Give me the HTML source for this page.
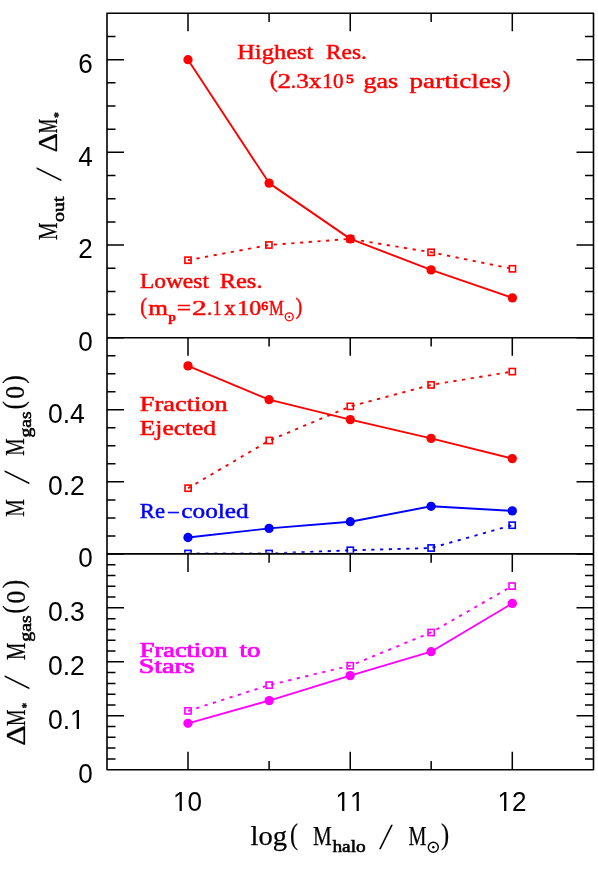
<!DOCTYPE html>
<html lang="en"><head><meta charset="utf-8"><title>Outflow mass vs halo mass</title>
<style>
html,body{margin:0;padding:0;background:#fff;}
body{width:598px;height:870px;overflow:hidden;font-family:"Liberation Sans",sans-serif;}
svg{display:block;will-change:transform;}
.ax{stroke:#000;stroke-width:1.60;fill:none;stroke-linecap:butt;stroke-linejoin:round;}
.tk{stroke:#000;stroke-width:1.5;fill:none;}
.num{font-family:"Liberation Sans",sans-serif;font-size:28px;fill:#000;font-kerning:none;}
.ser{font-family:"Liberation Serif",serif;font-kerning:none;}
.ln{fill:none;stroke-width:1.9;stroke-linejoin:round;stroke-linecap:butt;}
.dt{fill:none;stroke-width:1.9;stroke-dasharray:3.2 5.54;stroke-dashoffset:0.14;}
.sq{fill:none;stroke-width:1.6;}
.r{stroke:#ff0000;}.b{stroke:#0000ff;}.m{stroke:#ff00ff;}
.fr{fill:#ff0000;}.fb{fill:#0000ff;}.fm{fill:#ff00ff;}
</style></head><body>
<svg width="598" height="870" viewBox="0 0 598 870">
<rect x="0" y="0" width="598" height="870" fill="#ffffff"/>
<defs>
<clipPath id="cp1"><rect x="107.0" y="13.3" width="486.5" height="324.5"/></clipPath>
<clipPath id="cp2"><rect x="107.0" y="337.8" width="486.5" height="215.0"/></clipPath>
<clipPath id="cp3"><rect x="107.0" y="553.9" width="486.5" height="215.8"/></clipPath>
</defs>
<!-- data series -->
<g clip-path="url(#cp1)">
<path class="dt r" d="M188.0 260.2 L268.9 245.0 L350.3 238.9 L431.1 252.3 L512.4 268.8"/>
<rect class="sq r" x="184.90" y="257.10" width="6.2" height="6.2"/>
<rect class="sq r" x="265.80" y="241.90" width="6.2" height="6.2"/>
<rect class="sq r" x="347.20" y="235.80" width="6.2" height="6.2"/>
<rect class="sq r" x="428.00" y="249.20" width="6.2" height="6.2"/>
<rect class="sq r" x="509.30" y="265.70" width="6.2" height="6.2"/>
</g>
<g clip-path="url(#cp1)">
<path class="ln r" d="M188.0 59.7 L269.1 183.1 L350.3 238.9 L431.1 269.9 L512.4 297.9"/>
<circle class="fr" cx="188.0" cy="59.7" r="4.65"/>
<circle class="fr" cx="269.1" cy="183.1" r="4.65"/>
<circle class="fr" cx="350.3" cy="238.9" r="4.65"/>
<circle class="fr" cx="431.1" cy="269.9" r="4.65"/>
<circle class="fr" cx="512.4" cy="297.9" r="4.65"/>
</g>
<g clip-path="url(#cp2)">
<path class="dt r" d="M188.1 488.2 L269.3 440.5 L350.3 406.4 L431.1 384.9 L512.3 371.6"/>
<rect class="sq r" x="185.00" y="485.10" width="6.2" height="6.2"/>
<rect class="sq r" x="266.20" y="437.40" width="6.2" height="6.2"/>
<rect class="sq r" x="347.20" y="403.30" width="6.2" height="6.2"/>
<rect class="sq r" x="428.00" y="381.80" width="6.2" height="6.2"/>
<rect class="sq r" x="509.20" y="368.50" width="6.2" height="6.2"/>
</g>
<g clip-path="url(#cp2)">
<path class="ln r" d="M188.0 365.9 L269.1 399.7 L350.3 419.6 L431.1 438.4 L512.3 458.6"/>
<circle class="fr" cx="188.0" cy="365.9" r="4.65"/>
<circle class="fr" cx="269.1" cy="399.7" r="4.65"/>
<circle class="fr" cx="350.3" cy="419.6" r="4.65"/>
<circle class="fr" cx="431.1" cy="438.4" r="4.65"/>
<circle class="fr" cx="512.3" cy="458.6" r="4.65"/>
</g>
<g clip-path="url(#cp2)">
<path class="dt b" d="M188.0 553.5 L269.1 553.5 L350.3 550.3 L431.1 548.0 L512.2 525.2"/>
<rect class="sq b" x="184.90" y="550.40" width="6.2" height="6.2"/>
<rect class="sq b" x="266.00" y="550.40" width="6.2" height="6.2"/>
<rect class="sq b" x="347.20" y="547.20" width="6.2" height="6.2"/>
<rect class="sq b" x="428.00" y="544.90" width="6.2" height="6.2"/>
<rect class="sq b" x="509.10" y="522.10" width="6.2" height="6.2"/>
</g>
<g clip-path="url(#cp2)">
<path class="ln b" d="M188.0 537.5 L269.1 528.4 L350.3 521.7 L431.1 506.3 L512.3 510.9"/>
<circle class="fb" cx="188.0" cy="537.5" r="4.65"/>
<circle class="fb" cx="269.1" cy="528.4" r="4.65"/>
<circle class="fb" cx="350.3" cy="521.7" r="4.65"/>
<circle class="fb" cx="431.1" cy="506.3" r="4.65"/>
<circle class="fb" cx="512.3" cy="510.9" r="4.65"/>
</g>
<g clip-path="url(#cp3)">
<path class="dt m" d="M188.0 710.9 L269.2 685.1 L350.2 665.7 L431.1 632.5 L512.1 586.1"/>
<rect class="sq m" x="184.90" y="707.80" width="6.2" height="6.2"/>
<rect class="sq m" x="266.10" y="682.00" width="6.2" height="6.2"/>
<rect class="sq m" x="347.10" y="662.60" width="6.2" height="6.2"/>
<rect class="sq m" x="428.00" y="629.40" width="6.2" height="6.2"/>
<rect class="sq m" x="509.00" y="583.00" width="6.2" height="6.2"/>
</g>
<g clip-path="url(#cp3)">
<path class="ln m" d="M188.0 723.3 L269.2 700.6 L350.2 675.6 L431.1 651.7 L512.3 603.4"/>
<circle class="fm" cx="188.0" cy="723.3" r="4.65"/>
<circle class="fm" cx="269.2" cy="700.6" r="4.65"/>
<circle class="fm" cx="350.2" cy="675.6" r="4.65"/>
<circle class="fm" cx="431.1" cy="651.7" r="4.65"/>
<circle class="fm" cx="512.3" cy="603.4" r="4.65"/>
</g>
<!-- axes frame -->
<rect class="ax" x="107.0" y="13.3" width="486.5" height="756.4"/>
<path class="ax" d="M107.0 337.8 H593.5 M107.0 553.9 H593.5"/>
<path class="tk" d="M188.00 13.3 v18.0 M188.00 337.8 v18.0 M188.00 553.9 v18.0 M188.00 769.7 v-18.0 M269.10 13.3 v8.8 M269.10 337.8 v8.8 M269.10 553.9 v8.8 M269.10 769.7 v-8.8 M350.25 13.3 v18.0 M350.25 337.8 v18.0 M350.25 553.9 v18.0 M350.25 769.7 v-18.0 M431.15 13.3 v8.8 M431.15 337.8 v8.8 M431.15 553.9 v8.8 M431.15 769.7 v-8.8 M512.30 13.3 v18.0 M512.30 337.8 v18.0 M512.30 553.9 v18.0 M512.30 769.7 v-18.0"/>
<path class="tk" d="M107.0 314.62 h8.5 M593.5 314.62 h-8.5 M107.0 291.44 h8.5 M593.5 291.44 h-8.5 M107.0 268.26 h8.5 M593.5 268.26 h-8.5 M107.0 245.09 h17.0 M593.5 245.09 h-17.0 M107.0 221.91 h8.5 M593.5 221.91 h-8.5 M107.0 198.73 h8.5 M593.5 198.73 h-8.5 M107.0 175.55 h8.5 M593.5 175.55 h-8.5 M107.0 152.37 h17.0 M593.5 152.37 h-17.0 M107.0 129.19 h8.5 M593.5 129.19 h-8.5 M107.0 106.01 h8.5 M593.5 106.01 h-8.5 M107.0 82.84 h8.5 M593.5 82.84 h-8.5 M107.0 59.66 h17.0 M593.5 59.66 h-17.0 M107.0 36.48 h8.5 M593.5 36.48 h-8.5 M107.0 535.89 h8.5 M593.5 535.89 h-8.5 M107.0 517.88 h8.5 M593.5 517.88 h-8.5 M107.0 499.88 h8.5 M593.5 499.88 h-8.5 M107.0 481.87 h17.0 M593.5 481.87 h-17.0 M107.0 463.86 h8.5 M593.5 463.86 h-8.5 M107.0 445.85 h8.5 M593.5 445.85 h-8.5 M107.0 427.84 h8.5 M593.5 427.84 h-8.5 M107.0 409.83 h17.0 M593.5 409.83 h-17.0 M107.0 391.82 h8.5 M593.5 391.82 h-8.5 M107.0 373.82 h8.5 M593.5 373.82 h-8.5 M107.0 355.81 h8.5 M593.5 355.81 h-8.5 M107.0 758.91 h8.5 M593.5 758.91 h-8.5 M107.0 748.12 h8.5 M593.5 748.12 h-8.5 M107.0 737.33 h8.5 M593.5 737.33 h-8.5 M107.0 726.54 h8.5 M593.5 726.54 h-8.5 M107.0 715.75 h17.0 M593.5 715.75 h-17.0 M107.0 704.96 h8.5 M593.5 704.96 h-8.5 M107.0 694.17 h8.5 M593.5 694.17 h-8.5 M107.0 683.38 h8.5 M593.5 683.38 h-8.5 M107.0 672.59 h8.5 M593.5 672.59 h-8.5 M107.0 661.80 h17.0 M593.5 661.80 h-17.0 M107.0 651.01 h8.5 M593.5 651.01 h-8.5 M107.0 640.22 h8.5 M593.5 640.22 h-8.5 M107.0 629.43 h8.5 M593.5 629.43 h-8.5 M107.0 618.64 h8.5 M593.5 618.64 h-8.5 M107.0 607.85 h17.0 M593.5 607.85 h-17.0 M107.0 597.06 h8.5 M593.5 597.06 h-8.5 M107.0 586.27 h8.5 M593.5 586.27 h-8.5 M107.0 575.48 h8.5 M593.5 575.48 h-8.5 M107.0 564.69 h8.5 M593.5 564.69 h-8.5 M107.0 337.80 h17.0 M593.5 337.80 h-17.0 M107.0 553.90 h17.0 M593.5 553.90 h-17.0"/>
<!-- tick labels -->
<text class="num" x="78.3" y="73.0" textLength="14.5" lengthAdjust="spacingAndGlyphs">6</text>
<text class="num" x="78.3" y="165.7" textLength="14.5" lengthAdjust="spacingAndGlyphs">4</text>
<text class="num" x="78.3" y="258.4" textLength="14.5" lengthAdjust="spacingAndGlyphs">2</text>
<text class="num" x="78.3" y="351.1" textLength="14.5" lengthAdjust="spacingAndGlyphs">0</text>
<text class="num" x="47.9" y="423.1" textLength="36.9" lengthAdjust="spacingAndGlyphs">0.4</text>
<text class="num" x="47.9" y="495.2" textLength="36.9" lengthAdjust="spacingAndGlyphs">0.2</text>
<text class="num" x="78.3" y="567.2" textLength="14.5" lengthAdjust="spacingAndGlyphs">0</text>
<text class="num" x="47.9" y="621.1" textLength="36.9" lengthAdjust="spacingAndGlyphs">0.3</text>
<text class="num" x="47.9" y="675.1" textLength="36.9" lengthAdjust="spacingAndGlyphs">0.2</text>
<text class="num" x="47.9" y="729.0" textLength="36.9" lengthAdjust="spacingAndGlyphs">0.1</text>
<text class="num" x="78.3" y="783.0" textLength="14.5" lengthAdjust="spacingAndGlyphs">0</text>
<text class="num" x="173.1" y="811.1" textLength="29.0" lengthAdjust="spacingAndGlyphs">10</text>
<text class="num" x="335.4" y="811.1" textLength="29.0" lengthAdjust="spacingAndGlyphs">11</text>
<text class="num" x="497.4" y="811.1" textLength="29.0" lengthAdjust="spacingAndGlyphs">12</text>
<!-- trim base bar of digit 1 -->
<rect x="173.26" y="808.9" width="6.30" height="2.6" fill="#fff"/><rect x="181.84" y="808.9" width="5.60" height="2.6" fill="#fff"/>
<rect x="335.77" y="808.9" width="6.30" height="2.6" fill="#fff"/><rect x="344.35" y="808.9" width="5.60" height="2.6" fill="#fff"/>
<rect x="350.26" y="808.9" width="6.30" height="2.6" fill="#fff"/><rect x="358.84" y="808.9" width="5.60" height="2.6" fill="#fff"/>
<rect x="497.77" y="808.9" width="6.30" height="2.6" fill="#fff"/><rect x="506.35" y="808.9" width="5.60" height="2.6" fill="#fff"/>
<rect x="70.37" y="726.9" width="6.30" height="2.6" fill="#fff"/><rect x="79.00" y="726.9" width="5.60" height="2.6" fill="#fff"/>
<!-- in-plot annotations -->
<g>
<text class="ser" x="237.19" y="59.3" font-size="20px" fill="#ff0000" stroke="#ff0000" stroke-width="0.45" textLength="76.15" lengthAdjust="spacingAndGlyphs">Highest</text>
<text class="ser" x="326.13" y="59.3" font-size="20px" fill="#ff0000" stroke="#ff0000" stroke-width="0.45" textLength="40.60" lengthAdjust="spacingAndGlyphs">Res.</text>
<text class="ser" x="269.66" y="87.4" font-size="22.5px" fill="#ff0000" stroke="#ff0000" stroke-width="0.45" textLength="7.91" lengthAdjust="spacingAndGlyphs">(</text>
<text class="ser" x="277.41" y="88.2" font-size="20px" fill="#ff0000" stroke="#ff0000" stroke-width="0.45" textLength="13.60" lengthAdjust="spacingAndGlyphs">2</text>
<text class="ser" x="290.71" y="88.2" font-size="20px" fill="#ff0000" stroke="#ff0000" stroke-width="0.45" textLength="5.29" lengthAdjust="spacingAndGlyphs">.</text>
<text class="ser" x="296.19" y="88.2" font-size="20px" fill="#ff0000" stroke="#ff0000" stroke-width="0.45" textLength="25.21" lengthAdjust="spacingAndGlyphs">3x</text>
<text class="ser" x="322.34" y="88.2" font-size="20px" fill="#ff0000" stroke="#ff0000" stroke-width="0.45" textLength="21.17" lengthAdjust="spacingAndGlyphs">10</text>
<text class="ser" x="345.99" y="83.2" font-size="12.5px" fill="#ff0000" stroke="#ff0000" stroke-width="0.80" textLength="7.82" lengthAdjust="spacingAndGlyphs">5</text>
<text class="ser" x="363.58" y="88.2" font-size="20px" fill="#ff0000" stroke="#ff0000" stroke-width="0.45" textLength="34.66" lengthAdjust="spacingAndGlyphs">gas</text>
<text class="ser" x="409.56" y="88.2" font-size="20px" fill="#ff0000" stroke="#ff0000" stroke-width="0.45" textLength="91.82" lengthAdjust="spacingAndGlyphs">particles</text>
<text class="ser" x="503.00" y="87.4" font-size="22.5px" fill="#ff0000" stroke="#ff0000" stroke-width="0.45" textLength="7.26" lengthAdjust="spacingAndGlyphs">)</text>
<text class="ser" x="139.92" y="288.0" font-size="20px" fill="#ff0000" stroke="#ff0000" stroke-width="0.45" textLength="69.01" lengthAdjust="spacingAndGlyphs">Lowest</text>
<text class="ser" x="219.70" y="288.0" font-size="20px" fill="#ff0000" stroke="#ff0000" stroke-width="0.45" textLength="42.82" lengthAdjust="spacingAndGlyphs">Res.</text>
<text class="ser" x="140.21" y="314.4" font-size="22.5px" fill="#ff0000" stroke="#ff0000" stroke-width="0.45" textLength="6.74" lengthAdjust="spacingAndGlyphs">(</text>
<text class="ser" x="148.37" y="315.3" font-size="20px" fill="#ff0000" stroke="#ff0000" stroke-width="0.45" textLength="19.73" lengthAdjust="spacingAndGlyphs">m</text>
<text class="ser" x="168.32" y="321.0" font-size="12.5px" fill="#ff0000" font-weight="bold" stroke="#ff0000" stroke-width="0.30" textLength="7.74" lengthAdjust="spacingAndGlyphs">p</text>
<text class="ser" x="176.74" y="315.3" font-size="20px" fill="#ff0000" stroke="#ff0000" stroke-width="0.45" textLength="14.30" lengthAdjust="spacingAndGlyphs">=</text>
<text class="ser" x="192.11" y="315.3" font-size="20px" fill="#ff0000" stroke="#ff0000" stroke-width="0.45" textLength="14.72" lengthAdjust="spacingAndGlyphs">2</text>
<text class="ser" x="207.01" y="315.3" font-size="20px" fill="#ff0000" stroke="#ff0000" stroke-width="0.45" textLength="5.29" lengthAdjust="spacingAndGlyphs">.</text>
<text class="ser" x="213.05" y="315.3" font-size="20px" fill="#ff0000" stroke="#ff0000" stroke-width="0.45" textLength="8.24" lengthAdjust="spacingAndGlyphs">1</text>
<text class="ser" x="224.30" y="315.3" font-size="20px" fill="#ff0000" stroke="#ff0000" stroke-width="0.45" textLength="11.27" lengthAdjust="spacingAndGlyphs">x</text>
<text class="ser" x="237.20" y="315.3" font-size="20px" fill="#ff0000" stroke="#ff0000" stroke-width="0.45" textLength="23.91" lengthAdjust="spacingAndGlyphs">10</text>
<text class="ser" x="261.32" y="310.2" font-size="12.5px" fill="#ff0000" stroke="#ff0000" stroke-width="0.80" textLength="6.79" lengthAdjust="spacingAndGlyphs">6</text>
<text class="ser" x="269.12" y="315.3" font-size="20px" fill="#ff0000" stroke="#ff0000" stroke-width="0.45" textLength="14.76" lengthAdjust="spacingAndGlyphs">M</text>
<circle cx="289.2" cy="316.8" r="4.0" fill="none" stroke="#ff0000" stroke-width="1.3"/><circle cx="289.2" cy="316.8" r="1.1" fill="#ff0000"/>
<text class="ser" x="295.77" y="314.4" font-size="22.5px" fill="#ff0000" stroke="#ff0000" stroke-width="0.45" textLength="6.48" lengthAdjust="spacingAndGlyphs">)</text>
</g><g>
<text class="ser" x="139.74" y="410.7" font-size="20px" fill="#ff0000" stroke="#ff0000" stroke-width="0.45" textLength="87.96" lengthAdjust="spacingAndGlyphs">Fraction</text>
<text class="ser" x="139.77" y="434.6" font-size="20px" fill="#ff0000" stroke="#ff0000" stroke-width="0.45" textLength="76.34" lengthAdjust="spacingAndGlyphs">Ejected</text>
<text class="ser" x="139.85" y="518.3" font-size="20px" fill="#0000ff" stroke="#0000ff" stroke-width="0.45" textLength="25.14" lengthAdjust="spacingAndGlyphs">Re</text>
<text class="ser" x="168.24" y="518.3" font-size="20px" fill="#0000ff" stroke="#0000ff" stroke-width="0.45" textLength="10.42" lengthAdjust="spacingAndGlyphs">&#8211;</text>
<text class="ser" x="181.34" y="518.3" font-size="20px" fill="#0000ff" stroke="#0000ff" stroke-width="0.45" textLength="67.37" lengthAdjust="spacingAndGlyphs">cooled</text>
</g><g>
<text class="ser" x="139.84" y="656.5" font-size="20px" fill="#ff00ff" stroke="#ff00ff" stroke-width="0.70" textLength="87.66" lengthAdjust="spacingAndGlyphs">Fraction</text>
<text class="ser" x="239.44" y="656.5" font-size="20px" fill="#ff00ff" stroke="#ff00ff" stroke-width="0.70" textLength="20.99" lengthAdjust="spacingAndGlyphs">to</text>
<text class="ser" x="138.73" y="672.5" font-size="20px" fill="#ff00ff" stroke="#ff00ff" stroke-width="0.70" textLength="55.88" lengthAdjust="spacingAndGlyphs">Stars</text>
</g>
<!-- axis titles -->
<g>
<text class="ser" x="250.53" y="844.8" font-size="27px" fill="#000000" stroke="#000000" stroke-width="0.25" textLength="36.52" lengthAdjust="spacingAndGlyphs">log</text>
<text class="ser" x="290.04" y="843.9" font-size="28.5px" fill="#000000" stroke="#000000" stroke-width="0.20" textLength="8.04" lengthAdjust="spacingAndGlyphs">(</text>
<text class="ser" x="312.89" y="844.8" font-size="27px" fill="#000000" stroke="#000000" stroke-width="0.25" textLength="18.72" lengthAdjust="spacingAndGlyphs">M</text>
<text class="ser" x="332.41" y="851.9" font-size="16.5px" fill="#000000" stroke="#000000" stroke-width="0.55" textLength="33.33" lengthAdjust="spacingAndGlyphs">halo</text>
<text class="ser" transform="translate(378.9,848.8) skewX(-8.5)" x="0" y="0" font-size="37px" fill="#000000">/</text>
<text class="ser" x="408.52" y="844.8" font-size="27px" fill="#000000" stroke="#000000" stroke-width="0.25" textLength="17.87" lengthAdjust="spacingAndGlyphs">M</text>
<circle cx="433.3" cy="847.2" r="5.0" fill="none" stroke="#000000" stroke-width="1.4"/><circle cx="433.3" cy="847.2" r="1.2" fill="#000000"/>
<text class="ser" x="440.91" y="843.9" font-size="28.5px" fill="#000000" stroke="#000000" stroke-width="0.20" textLength="8.17" lengthAdjust="spacingAndGlyphs">)</text>
</g>
<g transform="translate(57.0,0) rotate(-90)">
<text class="ser" x="-239.97" y="0.0" font-size="27px" fill="#000000" stroke="#000000" stroke-width="0.25" textLength="17.55" lengthAdjust="spacingAndGlyphs">M</text>
<text class="ser" x="-221.96" y="6.5" font-size="16.5px" fill="#000000" stroke="#000000" stroke-width="0.55" textLength="25.48" lengthAdjust="spacingAndGlyphs">out</text>
<text class="ser" transform="translate(-181.2,4.4) skewX(-8.5)" x="0" y="0" font-size="37px" fill="#000000">/</text>
<text class="ser" x="-152.56" y="0.0" font-size="27px" fill="#000000" stroke="#000000" stroke-width="0.25" textLength="19.61" lengthAdjust="spacingAndGlyphs">&#916;</text>
<text class="ser" x="-133.37" y="0.0" font-size="27px" fill="#000000" stroke="#000000" stroke-width="0.25" textLength="14.44" lengthAdjust="spacingAndGlyphs">M</text>
<text class="ser" x="-117.89" y="5.2" font-size="12px" fill="#000000" font-weight="bold" stroke="#000000" stroke-width="0.30" textLength="5.88" lengthAdjust="spacingAndGlyphs">*</text>
</g>
<g transform="translate(24.4,0) rotate(-90)">
<text class="ser" x="-516.77" y="0.0" font-size="27px" fill="#000000" stroke="#000000" stroke-width="0.25" textLength="17.55" lengthAdjust="spacingAndGlyphs">M</text>
<text class="ser" transform="translate(-484.3,4.4) skewX(-8.5)" x="0" y="0" font-size="37px" fill="#000000">/</text>
<text class="ser" x="-455.77" y="0.0" font-size="27px" fill="#000000" stroke="#000000" stroke-width="0.25" textLength="17.44" lengthAdjust="spacingAndGlyphs">M</text>
<text class="ser" x="-437.44" y="6.6" font-size="16.5px" fill="#000000" stroke="#000000" stroke-width="0.55" textLength="26.15" lengthAdjust="spacingAndGlyphs">gas</text>
<text class="ser" x="-409.43" y="-1.5" font-size="28.5px" fill="#000000" stroke="#000000" stroke-width="0.20" textLength="8.56" lengthAdjust="spacingAndGlyphs">(</text>
<text class="ser" x="-398.87" y="0.0" font-size="27px" fill="#000000" stroke="#000000" stroke-width="0.25" textLength="12.74" lengthAdjust="spacingAndGlyphs">0</text>
<text class="ser" x="-383.73" y="-1.5" font-size="28.5px" fill="#000000" stroke="#000000" stroke-width="0.20" textLength="8.56" lengthAdjust="spacingAndGlyphs">)</text>
</g>
<g transform="translate(24.5,0) rotate(-90)">
<text class="ser" x="-745.84" y="0.0" font-size="27px" fill="#000000" stroke="#000000" stroke-width="0.25" textLength="20.85" lengthAdjust="spacingAndGlyphs">&#916;</text>
<text class="ser" x="-725.94" y="0.0" font-size="27px" fill="#000000" stroke="#000000" stroke-width="0.25" textLength="16.58" lengthAdjust="spacingAndGlyphs">M</text>
<text class="ser" x="-708.48" y="5.2" font-size="12px" fill="#000000" font-weight="bold" stroke="#000000" stroke-width="0.30" textLength="5.76" lengthAdjust="spacingAndGlyphs">*</text>
<text class="ser" transform="translate(-689.3,4.4) skewX(-8.5)" x="0" y="0" font-size="37px" fill="#000000">/</text>
<text class="ser" x="-659.96" y="0.0" font-size="27px" fill="#000000" stroke="#000000" stroke-width="0.25" textLength="17.23" lengthAdjust="spacingAndGlyphs">M</text>
<text class="ser" x="-641.75" y="6.6" font-size="16.5px" fill="#000000" stroke="#000000" stroke-width="0.55" textLength="26.47" lengthAdjust="spacingAndGlyphs">gas</text>
<text class="ser" x="-613.73" y="-1.5" font-size="28.5px" fill="#000000" stroke="#000000" stroke-width="0.20" textLength="8.56" lengthAdjust="spacingAndGlyphs">(</text>
<text class="ser" x="-603.57" y="0.0" font-size="27px" fill="#000000" stroke="#000000" stroke-width="0.25" textLength="12.74" lengthAdjust="spacingAndGlyphs">0</text>
<text class="ser" x="-588.22" y="-1.5" font-size="28.5px" fill="#000000" stroke="#000000" stroke-width="0.20" textLength="8.43" lengthAdjust="spacingAndGlyphs">)</text>
</g>
</svg></body></html>
